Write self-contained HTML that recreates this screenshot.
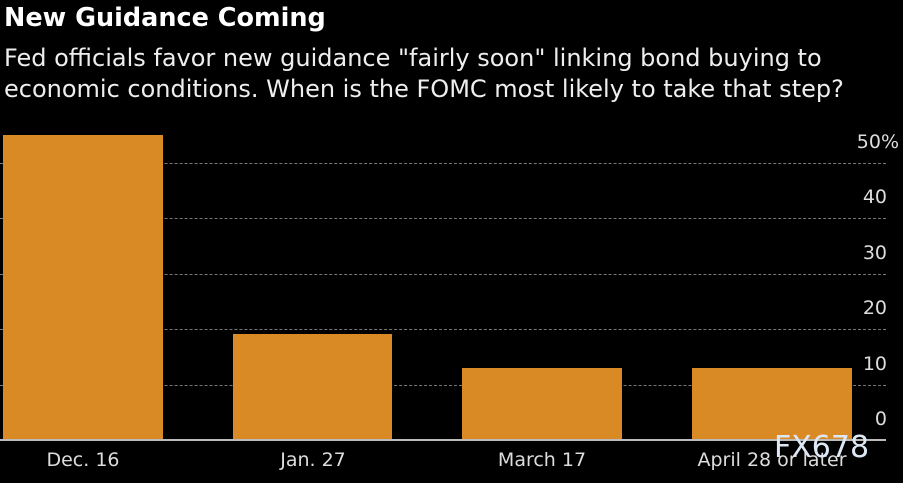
<!DOCTYPE html>
<html><head><style>
body{margin:0;background:#000;width:903px;height:483px;overflow:hidden;font-family:"DejaVu Sans","Liberation Sans",sans-serif;color:#fff;position:relative}
.t{position:absolute;left:4px;top:3px;font-weight:bold;font-size:25.5px}
.s{position:absolute;left:4px;top:43px;font-size:24px;line-height:31px;color:#eee;white-space:nowrap}
.g{position:absolute;left:0;width:886px;border-top:1px dashed #777}
.y{position:absolute;right:16px;font-size:19px;color:#ddd}
.b{position:absolute;background:#DA8A25;bottom:43px}
.x{position:absolute;top:449px;font-size:19px;color:#ddd;text-align:center;width:240px}
</style></head><body>
<div class="t">New Guidance Coming</div>
<div class="s">Fed officials favor new guidance "fairly soon" linking bond buying to<br>economic conditions. When is the FOMC most likely to take that step?</div>
<div class="g" style="top:163px"></div>
<div class="g" style="top:218px"></div>
<div class="g" style="top:274px"></div>
<div class="g" style="top:329px"></div>
<div class="g" style="top:385px"></div>
<div class="y" style="top:131px;right:4px">50%</div>
<div class="y" style="top:186px">40</div>
<div class="y" style="top:242px">30</div>
<div class="y" style="top:297px">20</div>
<div class="y" style="top:353px">10</div>
<div class="y" style="top:408px">0</div>
<div class="b" style="left:3px;width:160px;top:135px"></div>
<div class="b" style="left:233px;width:159px;top:334px"></div>
<div class="b" style="left:462px;width:160px;top:368px"></div>
<div class="b" style="left:692px;width:160px;top:368px"></div>
<div style="position:absolute;left:0;top:439px;width:886px;height:2px;background:#bbb"></div>
<div class="x" style="left:-37px">Dec. 16</div>
<div class="x" style="left:193px">Jan. 27</div>
<div class="x" style="left:422px">March 17</div>
<div class="x" style="left:652px">April 28 or later</div>
<div style="position:absolute;left:774px;top:430px;font-size:30px;color:#dde8f5">FX678</div>
</body></html>
